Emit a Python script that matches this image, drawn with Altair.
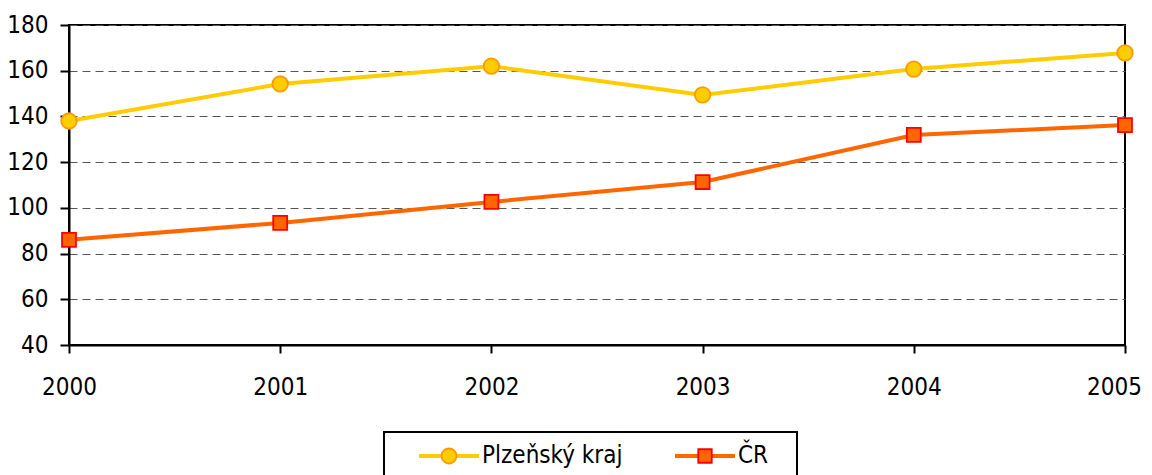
import altair as alt
import pandas as pd

years = [2000, 2001, 2002, 2003, 2004, 2005]
plzen = [138.0, 154.2, 162.0, 149.4, 160.7, 167.8]
cr = [86.0, 93.4, 102.6, 111.3, 131.9, 136.2]
series_names = ["Plzeňský kraj", "ČR"]
line_colors = ["#FFCC00", "#FF6600"]
marker_fills = ["#FFCC00", "#FF6600"]
marker_strokes = ["#FF9900", "#FF0000"]
y_ticks = [40, 60, 80, 100, 120, 140, 160, 180]

rows = []
for name, vals in zip(series_names, [plzen, cr]):
    for yr, v in zip(years, vals):
        rows.append({"year": yr, "series": name, "series2": name, "value": v})
df = pd.DataFrame(rows)

FONT = "Liberation Sans Narrow, Arial Narrow, DejaVu Sans Condensed, sans-serif"
SQUARE = "M-0.9,-0.9H0.9V0.9H-0.9Z"

common_legend = dict(
    orient="none", legendX=315, legendY=407, direction="horizontal",
    padding=12, symbolSize=225, symbolOffset=41, labelOffset=21,
    labelFont=FONT, labelFontSize=24, labelColor="black", columnPadding=29,
    labelLimit=0,
)

x = alt.X("year:Q", scale=alt.Scale(domain=[2000, 2005], nice=False, zero=False),
          axis=alt.Axis(values=years, format="d", title=None, grid=False,
                        tickSize=8, labelPadding=22, labelFlush=False,
                        labelOffset={"condition": {"test": "datum.value == 2005", "value": -11},
                                     "value": 0}))
y = alt.Y("value:Q", scale=alt.Scale(domain=[40, 180], nice=False, zero=False),
          axis=alt.Axis(values=y_ticks, title=None, grid=True, gridDash=[8, 5],
                        gridColor="#555555", gridWidth=1, tickSize=9, labelPadding=12))

line = alt.Chart(df).mark_line(strokeWidth=4).encode(
    x=x, y=y,
    color=alt.Color("series:N", scale=alt.Scale(range=line_colors),
                    legend=alt.Legend(**common_legend, strokeColor="black",
                                      title="\u00a0", titleOrient="right",
                                      titlePadding=17, titleFontSize=24,
                                      symbolType="M-4,0H4", symbolStrokeWidth=4)),
)

pt_legend = alt.Legend(**common_legend, title=None, labelOpacity=0, symbolStrokeWidth=1.8)
points = alt.Chart(df).mark_point(filled=True, size=240, opacity=1, strokeWidth=1.8).encode(
    x=x, y=y,
    shape=alt.Shape("series2:N", scale=alt.Scale(range=["circle", SQUARE]), legend=pt_legend),
    fill=alt.Fill("series2:N", scale=alt.Scale(range=marker_fills), legend=pt_legend),
    stroke=alt.Stroke("series2:N", scale=alt.Scale(range=marker_strokes), legend=pt_legend),
)

chart = alt.layer(line, points).properties(
    width=1056, height=320,
    autosize=alt.AutoSizeParams(type="none"),
    padding={"left": 61, "top": 17, "right": 19, "bottom": 130},
).configure_view(stroke="black", strokeWidth=2).configure_axis(
    domainColor="black", domainWidth=2, tickColor="black", tickWidth=2,
    labelFont=FONT, labelFontSize=24, labelColor="black",
).configure_legend(strokeWidth=2)

chart.save("out.html", embed_options={"renderer": "svg", "actions": False})
